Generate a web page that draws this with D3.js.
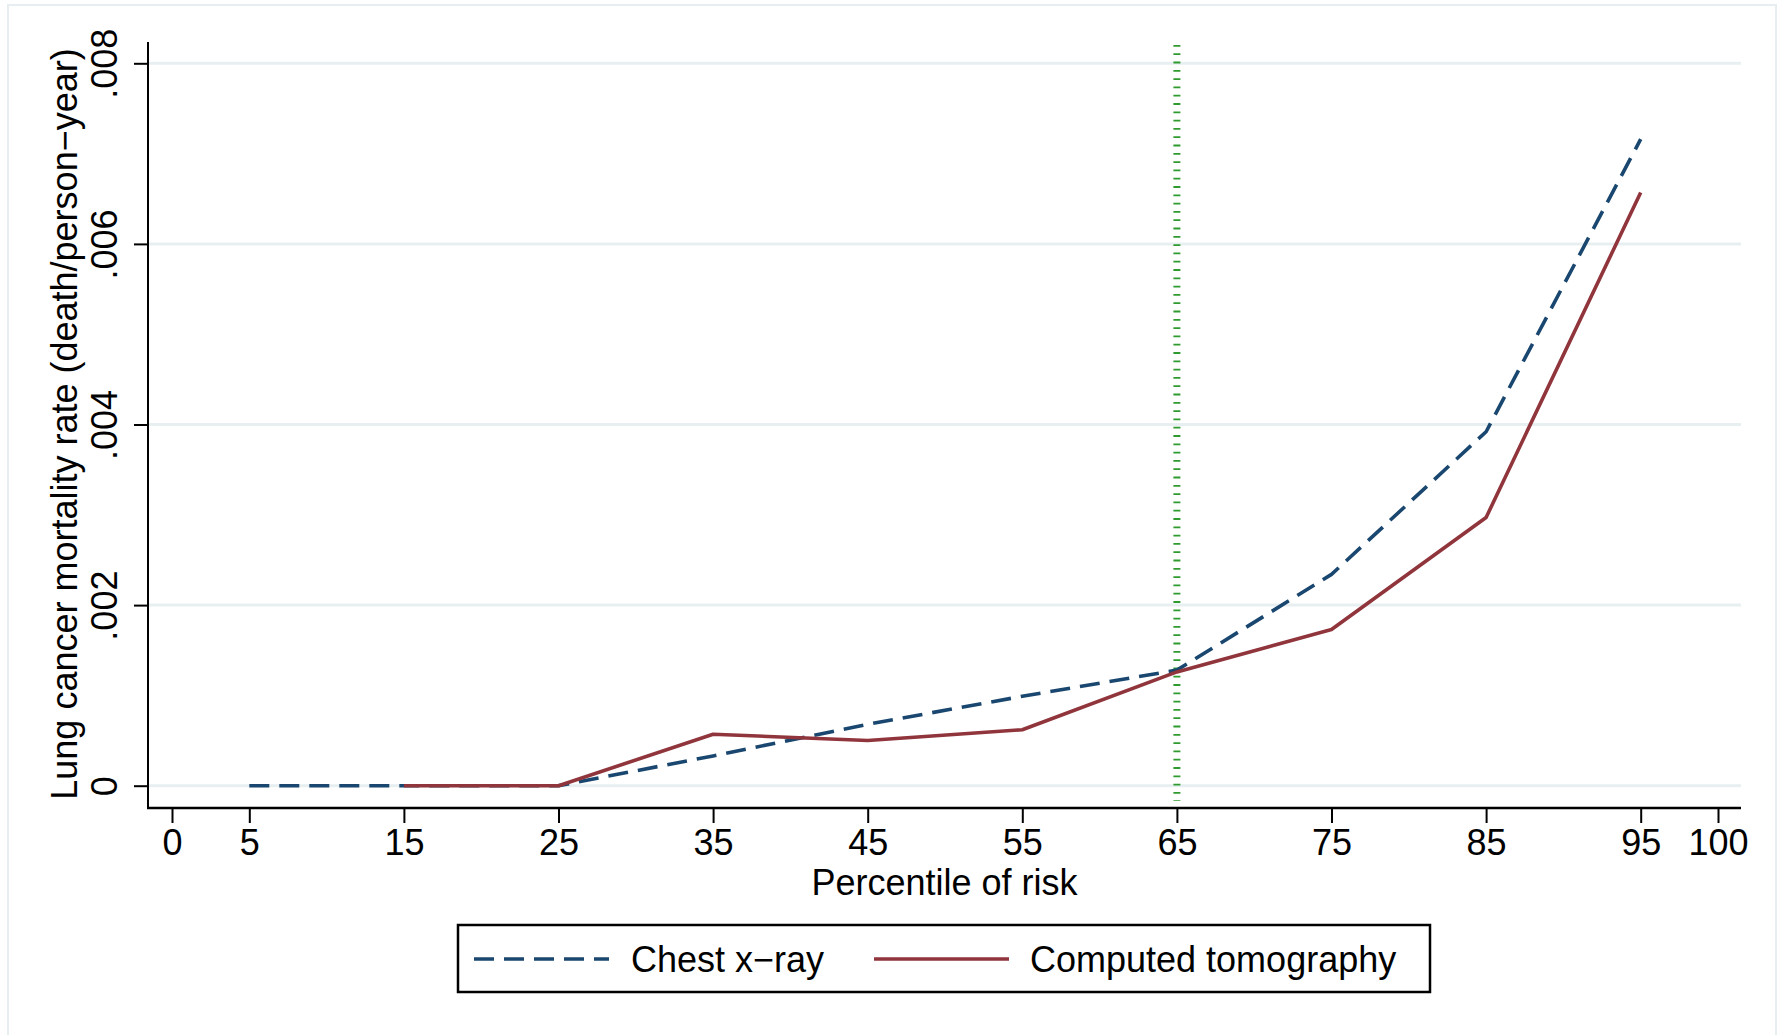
<!DOCTYPE html>
<html>
<head>
<meta charset="utf-8">
<script src="https://cdn.jsdelivr.net/npm/d3@7"></script>
<style>
  html, body { margin: 0; padding: 0; background: #fff; }
  svg { display: block; }
  text { font-family: "Liberation Sans", Arial, Helvetica, sans-serif; fill: #000; }
</style>
</head>
<body>
<svg id="chart" width="1779" height="1035"></svg>
<script>
// ---- data ----
const percentiles = [5, 15, 25, 35, 45, 55, 65, 75, 85, 95];
const chestXray   = [0, 0, 0, 0.00033, 0.00068, 0.00099, 0.00128, 0.00234, 0.00392, 0.00716];
const computedTomography = [null, 0, 0, 0.00057, 0.00050, 0.00062, 0.00126, 0.00173, 0.00297, 0.00657];
const xTickValues = [0, 5, 15, 25, 35, 45, 55, 65, 75, 85, 95, 100];
const yTickValues = [0, 0.002, 0.004, 0.006, 0.008];
const yTickLabels = ["0", ".002", ".004", ".006", ".008"];
const referencePercentile = 65;
const seriesNames = ["Chest x\u2212ray", "Computed tomography"];
const xTitle = "Percentile of risk";
const yTitle = "Lung cancer mortality rate (death/person\u2212year)";

// ---- layout ----
const W = 1779, H = 1035;
const plotLeft = 148, plotRight = 1741, plotTop = 42, plotBottom = 808;
const blue = "#1a476f", red = "#90353b", green = "#2f9a2f", grid = "#e7eff1";

const svg = d3.select("#chart");

// outer frame
svg.append("rect").attr("x", 8).attr("y", 5).attr("width", 1768).attr("height", 1060)
  .attr("fill", "#fff").attr("stroke", "#e6eef1").attr("stroke-width", 2);

const x = d3.scaleLinear().domain([0, 100]).range([172, 1718]);
const y = d3.scaleLinear().domain([0, 0.008]).range([785.7, 63.3]);

// gridlines
svg.append("g").selectAll("line").data(yTickValues).join("line")
  .attr("x1", plotLeft).attr("x2", plotRight)
  .attr("y1", d => y(d)).attr("y2", d => y(d))
  .attr("stroke", grid).attr("stroke-width", 3);

// y axis
const yAxis = d3.axisLeft(y).tickValues(yTickValues)
  .tickFormat((d, i) => yTickLabels[i]).tickSize(14).tickPadding(0);
const gy = svg.append("g").attr("transform", `translate(${plotLeft},0)`).call(yAxis);
gy.select(".domain").remove();
gy.selectAll(".tick line").attr("stroke", "#000").attr("stroke-width", 2);
gy.selectAll(".tick text")
  .attr("x", null).attr("dy", null)
  .attr("transform", "translate(-31,0) rotate(-90)")
  .attr("text-anchor", "middle")
  .style("font-size", "36px")
  .style("font-family", '"Liberation Sans", Arial, sans-serif');
svg.append("line").attr("x1", plotLeft).attr("x2", plotLeft)
  .attr("y1", plotTop).attr("y2", plotBottom + 1)
  .attr("stroke", "#000").attr("stroke-width", 2);

// x axis
const xAxis = d3.axisBottom(x).tickValues(xTickValues).tickFormat(d3.format("d"))
  .tickSize(15).tickPadding(0);
const gx = svg.append("g").attr("transform", `translate(0,${plotBottom})`).call(xAxis);
gx.select(".domain").remove();
gx.selectAll(".tick line").attr("stroke", "#000").attr("stroke-width", 2);
gx.selectAll(".tick text")
  .attr("y", 47).attr("dy", null)
  .style("font-size", "36px")
  .style("font-family", '"Liberation Sans", Arial, sans-serif');
svg.append("line").attr("x1", plotLeft - 1).attr("x2", plotRight)
  .attr("y1", plotBottom).attr("y2", plotBottom)
  .attr("stroke", "#000").attr("stroke-width", 2.5);

// axis titles
svg.append("text").attr("x", (plotLeft + plotRight) / 2).attr("y", 895)
  .attr("text-anchor", "middle").style("font-size", "36px").text(xTitle);
svg.append("text").attr("transform", "translate(77,424) rotate(-90)")
  .attr("text-anchor", "middle").style("font-size", "36px").text(yTitle);

// reference line
svg.append("line")
  .attr("x1", x(referencePercentile)).attr("x2", x(referencePercentile))
  .attr("y1", 45).attr("y2", 801)
  .attr("stroke", green).attr("stroke-width", 7)
  .attr("stroke-dasharray", "1.8 6.5");

// series
const line = d3.line()
  .defined(d => d[1] !== null)
  .x(d => x(d[0])).y(d => y(d[1]));

svg.append("path")
  .datum(percentiles.map((p, i) => [p, chestXray[i]]))
  .attr("d", line).attr("fill", "none")
  .attr("stroke", blue).attr("stroke-width", 3.6)
  .attr("stroke-dasharray", "20 10").attr("stroke-linejoin", "round");

svg.append("path")
  .datum(percentiles.map((p, i) => [p, computedTomography[i]]))
  .attr("d", line).attr("fill", "none")
  .attr("stroke", red).attr("stroke-width", 3.6).attr("stroke-linejoin", "round");

// legend
const lg = svg.append("g");
lg.append("rect").attr("x", 458).attr("y", 925).attr("width", 972).attr("height", 67)
  .attr("fill", "#fff").attr("stroke", "#000").attr("stroke-width", 2.5);
const legendItems = [
  { name: seriesNames[0], color: blue, dash: "20 10", x0: 474, x1: 609, tx: 631 },
  { name: seriesNames[1], color: red, dash: null, x0: 874, x1: 1009, tx: 1030 }
];
legendItems.forEach(it => {
  lg.append("line").attr("x1", it.x0).attr("x2", it.x1).attr("y1", 959).attr("y2", 959)
    .attr("stroke", it.color).attr("stroke-width", 3.6)
    .attr("stroke-dasharray", it.dash);
  lg.append("text").attr("x", it.tx).attr("y", 972).style("font-size", "36px").text(it.name);
});
</script>
</body>
</html>
